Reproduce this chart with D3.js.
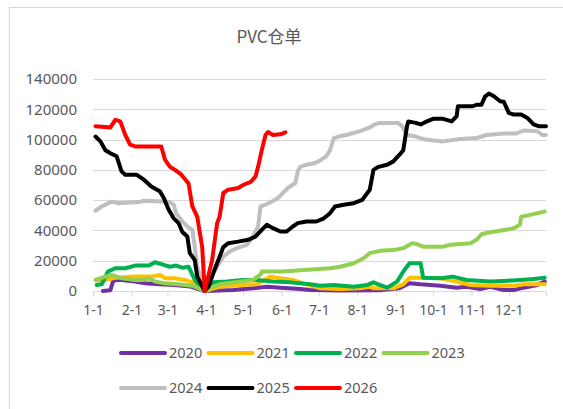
<!DOCTYPE html>
<html>
<head>
<meta charset="utf-8">
<script src="https://cdn.jsdelivr.net/npm/d3@7"></script>
<style>
    body { margin: 0; background: #fff; }
    text { font-family: "Noto Sans", "Noto Sans CJK SC", sans-serif; fill: #595959; }
</style>
</head>
<body>
<div id="chart"></div>
<script>
// x = day of year (0 = Jan 1), y = warehouse receipts
var monthLabels = ["1-1", "2-1", "3-1", "4-1", "5-1", "6-1", "7-1", "8-1", "9-1", "10-1", "11-1", "12-1"];
var monthStarts = [0, 31, 60, 91, 121, 152, 182, 213, 244, 274, 305, 335];
var yTicks = [0, 20000, 40000, 60000, 80000, 100000, 120000, 140000];
var seriesNames = ["2020", "2021", "2022", "2023", "2024", "2025", "2026"];
var seriesColors = ["#7030A0", "#FFC000", "#00B050", "#92D050", "#BFBFBF", "#000000", "#FF0000"];

var v2020 = [[8, 0], [14, 500], [16, 6000], [18, 7300], [23, 7300], [34, 6200], [42, 5100], [53, 4400],
    [66, 4000], [78, 3000], [90, 0], [113, 600], [129, 1800], [140, 2800], [151, 2200], [167, 1300],
    [175, 600], [199, 300], [231, 500], [247, 1800], [255, 5100], [264, 4400], [280, 3500], [293, 2200],
    [301, 2800], [312, 1300], [320, 2800], [331, 600], [339, 600], [347, 2200], [358, 4000], [364, 6200]];

var v2021 = [[3, 7000], [10, 7300], [18, 8800], [34, 9500], [47, 9500], [54, 10600], [58, 8400], [66, 8400],
    [74, 7300], [80, 5700], [90, 0], [102, 2800], [118, 4000], [132, 4400], [143, 9500], [151, 8400],
    [161, 7300], [172, 4400], [183, 1800], [199, 1300], [215, 1800], [223, 2800], [226, 1800], [242, 1800],
    [250, 4400], [255, 8800], [264, 8800], [280, 8400], [293, 6200], [304, 4000], [320, 3500], [339, 3500],
    [347, 4400], [364, 4400]];

var v2022 = [[3, 4000], [7, 4400], [12, 12800], [18, 15000], [26, 15000], [34, 16800], [45, 16800],
    [50, 19000], [55, 17700], [62, 16000], [67, 16800], [72, 15400], [77, 16000], [82, 7300], [90, 0],
    [97, 5700], [108, 6200], [121, 7300], [132, 7300], [145, 6200], [159, 5700], [175, 4400], [183, 3500],
    [194, 4000], [210, 2800], [221, 4000], [226, 5700], [231, 4000], [237, 2200], [245, 6200], [250, 12800],
    [255, 18300], [264, 18300], [266, 8800], [280, 8400], [290, 9500], [301, 7300], [320, 6200],
    [331, 6600], [344, 7300], [355, 7900], [364, 8800]];

var v2023 = [[2, 7300], [10, 9500], [15, 10600], [23, 8400], [34, 7300], [41, 7300], [45, 8400], [50, 6200],
    [58, 5100], [69, 4400], [80, 3500], [90, 0], [94, 1800], [102, 4400], [113, 5700], [129, 7300],
    [135, 11000], [136, 12800], [153, 12800], [170, 13900], [191, 15000], [199, 16000], [210, 18300],
    [218, 21600], [223, 25000], [231, 26500], [242, 27000], [250, 28300], [257, 31600], [261, 31000],
    [266, 29300], [282, 29300], [288, 30500], [304, 31600], [309, 33800], [313, 37500], [320, 38800],
    [333, 40400], [339, 41500], [344, 43700], [345, 49000], [352, 50300], [364, 52500]];

var v2024 = [[2, 53000], [7, 55800], [15, 59000], [20, 58000], [37, 58700], [41, 59600], [61, 59000],
    [65, 57000], [67, 51400], [72, 46000], [76, 42600], [80, 40400], [82, 29000], [84, 16000], [90, 0],
    [94, 7300], [100, 16000], [105, 22700], [110, 26000], [116, 28300], [124, 30500], [129, 36000],
    [133, 42600], [135, 55800], [139, 57000], [144, 59000], [149, 61400], [153, 64700], [157, 68000],
    [163, 71300], [165, 79000], [167, 82000], [172, 83400], [179, 84500], [184, 86700], [188, 89000],
    [191, 93000], [194, 101000], [198, 102000], [204, 103000], [215, 105500], [222, 107700], [227, 110000],
    [231, 111000], [246, 111000], [249, 108800], [253, 103000], [260, 102000], [268, 100000], [282, 98800],
    [296, 100400], [309, 101000], [317, 103000], [331, 104000], [341, 104000], [347, 106000],
    [358, 105500], [362, 103000], [365, 103000]];

var v2025 = [[2, 102000], [6, 98800], [10, 93000], [14, 91000], [19, 89000], [23, 79000], [26, 76800],
    [35, 76800], [41, 73500], [47, 69000], [54, 65700], [57, 61400], [61, 53600], [65, 48000], [69, 44800],
    [72, 39000], [76, 36000], [78, 25000], [82, 20500], [84, 9500], [90, 0], [93, 2800], [97, 12000],
    [101, 20500], [105, 29000], [109, 31600], [117, 32600], [125, 33800], [131, 36000], [136, 40400],
    [140, 43700], [145, 41500], [151, 39300], [156, 39300], [161, 42600], [165, 44800], [172, 45900],
    [180, 45900], [186, 48000], [191, 51400], [195, 55800], [202, 57000], [210, 58000], [217, 60200],
    [221, 64700], [223, 66900], [226, 80000], [230, 82000], [237, 83400], [242, 85600], [247, 90000],
    [250, 93000], [253, 108800], [254, 112000], [260, 111000], [264, 110000], [269, 112000], [274, 113700],
    [282, 113700], [289, 112000], [293, 115400], [294, 122000], [306, 122000], [309, 123000], [313, 123000],
    [316, 128600], [319, 130400], [323, 128600], [328, 125300], [331, 125000], [335, 117600], [339, 116500],
    [345, 116500], [350, 114300], [355, 110000], [359, 108800], [365, 108800]];

var v2026 = [[2, 108800], [14, 108000], [18, 113000], [22, 112000], [26, 103000], [30, 96600], [34, 95500],
    [55, 95500], [58, 86700], [62, 82000], [66, 80000], [71, 77000], [77, 71000], [80, 56000], [84, 49000],
    [88, 29000], [90, 0], [96, 20500], [100, 44800], [102, 49000], [105, 64700], [109, 66900], [117, 68000],
    [121, 70000], [127, 72000], [131, 75700], [133, 82000], [136, 93000], [139, 103000], [141, 105000],
    [145, 103000], [151, 103500], [155, 104800]];

var allSeries = [v2020, v2021, v2022, v2023, v2024, v2025, v2026];

var svgWidth = 563;
var svgHeight = 409;

var svg = d3.select("#chart")
    .append("svg")
    .attr("width", svgWidth)
    .attr("height", svgHeight);

// outer chart border (runs off right/bottom edge)
svg.append("rect")
    .attr("x", 9.5)
    .attr("y", 7.5)
    .attr("width", 600)
    .attr("height", 450)
    .attr("fill", "none")
    .attr("stroke", "#d9d9d9");

// title
svg.append("text")
    .attr("x", 269)
    .attr("y", 43)
    .attr("text-anchor", "middle")
    .style("font-family", "'Noto Sans CJK SC', sans-serif")
    .style("font-size", "17px")
    .text("PVC仓单");

var xScale = d3.scaleLinear().domain([0, 365]).range([93, 546]);
var yScale = d3.scaleLinear().domain([0, 140000]).range([291, 79]);

// gridlines
svg.append("g")
    .selectAll("line")
    .data(yTicks.slice(1))
    .enter()
    .append("line")
    .attr("x1", xScale(0))
    .attr("x2", xScale(365))
    .attr("y1", d => Math.round(yScale(d)) + 0.5)
    .attr("y2", d => Math.round(yScale(d)) + 0.5)
    .attr("stroke", "#d9d9d9")
    .attr("stroke-width", 1);

// y axis labels, no thousands separator
var leftAxis = d3.axisLeft(yScale)
    .tickValues(yTicks)
    .tickSize(0)
    .tickPadding(0)
    .tickFormat(d3.format("d"));
var yAxis = svg.append("g")
    .attr("transform", "translate(77, 0)")
    .call(leftAxis);
yAxis.select(".domain").remove();
yAxis.selectAll("text")
    .style("font-size", "15px")
    .style("font-family", "'Noto Sans', sans-serif")
    .attr("fill", "#595959");

// x axis with month ticks
var bottomAxis = d3.axisBottom(xScale)
    .tickValues(monthStarts.concat([365]))
    .tickSize(5)
    .tickPadding(9)
    .tickFormat((d, i) => i < monthLabels.length ? monthLabels[i] : "");
var xAxis = svg.append("g")
    .attr("transform", "translate(0, 291.5)")
    .call(bottomAxis);
xAxis.select(".domain").attr("stroke", "#d9d9d9").attr("d", "M" + xScale(0) + ",0H" + xScale(365));
xAxis.selectAll(".tick line").attr("stroke", "#d9d9d9");
xAxis.selectAll("text")
    .style("font-size", "14px")
    .style("font-family", "'Noto Sans', sans-serif")
    .attr("fill", "#595959");

// series lines
var line = d3.line()
    .x(d => xScale(d[0]))
    .y(d => yScale(d[1]));

svg.append("g")
    .selectAll("path")
    .data(allSeries)
    .enter()
    .append("path")
    .attr("d", line)
    .attr("fill", "none")
    .attr("stroke", (d, i) => seriesColors[i])
    .attr("stroke-width", 4)
    .attr("stroke-linejoin", "round")
    .attr("stroke-linecap", "round");

// legend, two rows
var legend = svg.append("g")
    .selectAll("g")
    .data(seriesNames)
    .enter()
    .append("g")
    .attr("transform", (d, i) => `translate(${121 + (i % 4) * 87.5}, ${i < 4 ? 353 : 388})`);

legend.append("line")
    .attr("x1", 0)
    .attr("x2", 44)
    .attr("stroke", (d, i) => seriesColors[i])
    .attr("stroke-width", 4)
    .attr("stroke-linecap", "round");

legend.append("text")
    .attr("x", 48)
    .attr("y", 5)
    .style("font-size", "14.5px")
    .text(d => d);
</script>
</body>
</html>
